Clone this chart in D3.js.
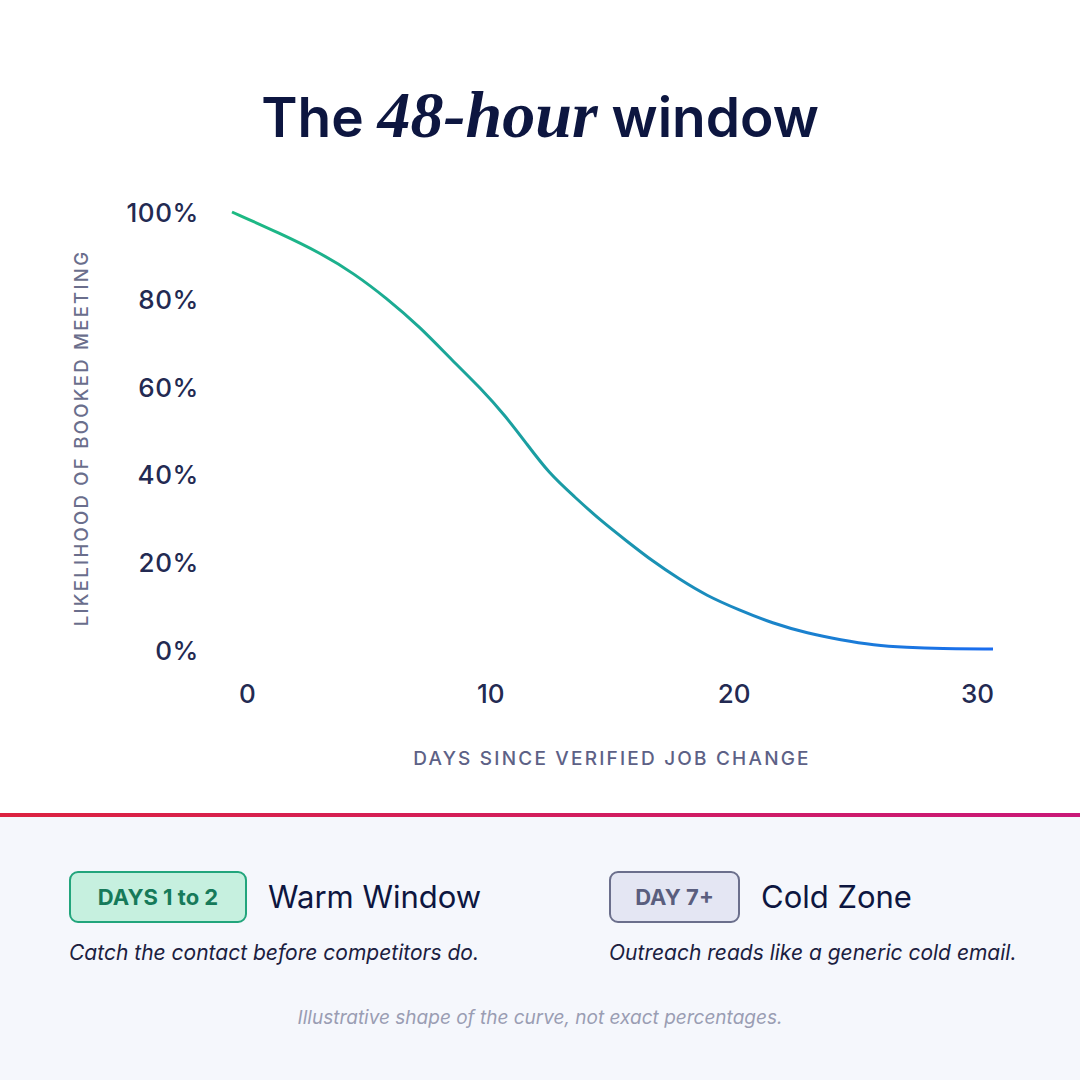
<!DOCTYPE html>
<html>
<head>
<meta charset="utf-8">
<script src="https://cdn.jsdelivr.net/npm/d3@7"></script>
<style>
  html, body { margin: 0; padding: 0; background: #ffffff; }
  svg { display: block; }
</style>
</head>
<body>
<svg id="chart" width="1080" height="1080"></svg>
<script>
// ---- data ----
const days   = [0, 1.9, 3.5, 4.8, 6.1, 7.4, 8.7, 9.8, 10.8, 11.6, 12.5, 13.5, 14.5, 15.6, 16.6, 17.6, 18.7, 20.0, 21.3, 22.7, 24.0, 25.3, 26.6, 27.9, 30];
const likelihood = [100, 95.1, 90.6, 86.0, 80.3, 73.8, 66.0, 59.8, 53.3, 47.2, 40.3, 35.0, 29.7, 24.7, 20.2, 16.3, 12.4, 9.1, 6.1, 3.8, 2.3, 1.1, 0.6, 0.3, 0.2];
const yTicks = [0, 20, 40, 60, 80, 100];
const xTickLabels = ["0", "10", "20", "30"];
const titleParts = ["The ", "48-hour", " window"];
const yAxisTitle = "LIKELIHOOD OF BOOKED MEETING";
const xAxisTitle = "DAYS SINCE VERIFIED JOB CHANGE";
const badges = [
  { badge: "DAYS 1 to 2", label: "Warm Window", caption: "Catch the contact before competitors do." },
  { badge: "DAY 7+", label: "Cold Zone", caption: "Outreach reads like a generic cold email." }
];
const footnote = "Illustrative shape of the curve, not exact percentages.";

const svg = d3.select("#chart");
const SANS = "Inter, 'Open Sans', sans-serif";
const NAVY = "#0d1640";

// ---- defs ----
const defs = svg.append("defs");
const lineGrad = defs.append("linearGradient").attr("id", "lineGrad")
  .attr("gradientUnits", "userSpaceOnUse").attr("x1", 232).attr("x2", 993).attr("y1", 0).attr("y2", 0);
lineGrad.append("stop").attr("offset", "0%").attr("stop-color", "#1dba82");
lineGrad.append("stop").attr("offset", "45%").attr("stop-color", "#1a9aa6");
lineGrad.append("stop").attr("offset", "100%").attr("stop-color", "#1a6cf0");
const divGrad = defs.append("linearGradient").attr("id", "divGrad")
  .attr("x1", "0%").attr("x2", "100%");
divGrad.append("stop").attr("offset", "0%").attr("stop-color", "#dc2240");
divGrad.append("stop").attr("offset", "100%").attr("stop-color", "#c91878");

// ---- background ----
svg.append("rect").attr("x", 0).attr("y", 0).attr("width", 1080).attr("height", 1080).attr("fill", "#ffffff");
svg.append("rect").attr("x", 0).attr("y", 815).attr("width", 1080).attr("height", 265).attr("fill", "#f5f7fc");
svg.append("rect").attr("x", 0).attr("y", 813).attr("width", 1080).attr("height", 4).attr("fill", "url(#divGrad)");

// ---- title ----
const title = svg.append("text").attr("x", 540).attr("y", 137).attr("text-anchor", "middle")
  .attr("fill", NAVY);
title.append("tspan").text(titleParts[0])
  .attr("font-family", SANS).attr("font-weight", 600).attr("font-size", 55);
title.append("tspan").text(titleParts[1])
  .attr("font-family", "'Liberation Serif', 'DejaVu Serif', serif").attr("font-weight", 700)
  .attr("font-style", "italic").attr("font-size", 66);
title.append("tspan").text(titleParts[2])
  .attr("font-family", SANS).attr("font-weight", 600).attr("font-size", 55);

// ---- scales ----
const x = d3.scaleLinear().domain([0, 30]).range([232, 993]);
const y = d3.scaleLinear().domain([0, 100]).range([650, 212]);
const xLabelPos = d3.scalePoint().domain(xTickLabels).range([247, 977]);

// ---- y axis ----
const yAxis = d3.axisLeft(y).tickValues(yTicks).tickFormat(d => d + "%").tickSize(0).tickPadding(0);
const yG = svg.append("g").attr("transform", "translate(199,0)").call(yAxis);
yG.select(".domain").remove();
yG.selectAll("text").attr("font-family", SANS).attr("font-size", 26).attr("font-weight", 500)
  .attr("letter-spacing", 0.6).attr("fill", "#232a52").attr("dy", "0.35em");

// ---- x axis (labels) ----
const xAxis = d3.axisBottom(xLabelPos).tickSize(0).tickPadding(0);
const xG = svg.append("g").attr("transform", "translate(0,694)").call(xAxis);
xG.select(".domain").remove();
xG.selectAll("text").attr("font-family", SANS).attr("font-size", 26).attr("font-weight", 500)
  .attr("fill", "#232a52").attr("dy", "0.35em");

// ---- axis titles ----
svg.append("text").attr("transform", "translate(88,438) rotate(-90)")
  .attr("text-anchor", "middle").attr("font-family", SANS).attr("font-size", 18.5).attr("font-weight", 500)
  .attr("letter-spacing", 2.3).attr("fill", "#6a6e8c").text(yAxisTitle);
svg.append("text").attr("x", 612).attr("y", 765)
  .attr("text-anchor", "middle").attr("font-family", SANS).attr("font-size", 19).attr("font-weight", 500)
  .attr("letter-spacing", 2.2).attr("fill", "#5d6186").text(xAxisTitle);

// ---- curve ----
const pts = days.map((d, i) => [d, likelihood[i]]);
const line = d3.line().x(d => x(d[0])).y(d => y(d[1])).curve(d3.curveBasis);
svg.append("path").datum(pts).attr("d", line).attr("fill", "none")
  .attr("stroke", "url(#lineGrad)").attr("stroke-width", 3).attr("stroke-linecap", "butt");

// ---- legend cards ----
const cardX = [69, 609];
const badgeW = [178, 131];
const badgeFill = ["#c6f0df", "#e4e6f3"];
const badgeStroke = ["#22a57c", "#6b6f8c"];
const badgeText = ["#167a5a", "#5a5e7e"];
badges.forEach((b, i) => {
  const g = svg.append("g").attr("transform", `translate(${cardX[i]},0)`);
  g.append("rect").attr("x", 1).attr("y", 872).attr("width", badgeW[i] - 2).attr("height", 50).attr("rx", 8)
    .attr("fill", badgeFill[i]).attr("stroke", badgeStroke[i]).attr("stroke-width", 2);
  g.append("text").attr("x", badgeW[i] / 2).attr("y", 897).attr("dy", "0.35em").attr("text-anchor", "middle")
    .attr("font-family", SANS).attr("font-weight", 700).attr("font-size", 22).attr("fill", badgeText[i]).text(b.badge);
  g.append("text").attr("x", badgeW[i] + 21).attr("y", 897).attr("dy", "0.35em")
    .attr("font-family", SANS).attr("font-weight", 400).attr("font-size", 31).attr("fill", NAVY).text(b.label);
  g.append("text").attr("x", 0).attr("y", 953).attr("dy", "0.35em")
    .attr("font-family", SANS).attr("font-style", "italic").attr("font-size", 21).attr("fill", "#1b2040").text(b.caption);
});

// ---- footnote ----
svg.append("text").attr("x", 540).attr("y", 1017).attr("dy", "0.35em").attr("text-anchor", "middle")
  .attr("font-family", SANS).attr("font-style", "italic").attr("font-size", 19).attr("fill", "#9a9db3").text(footnote);
</script>
</body>
</html>
